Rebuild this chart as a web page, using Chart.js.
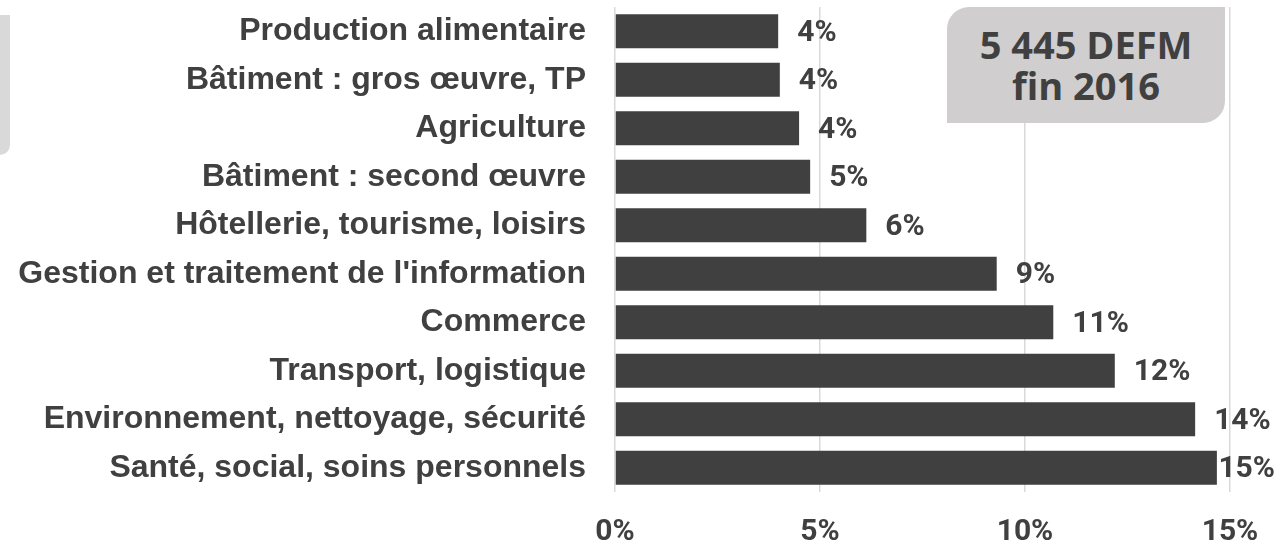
<!DOCTYPE html>
<html>
<head>
<meta charset="utf-8">
<script src="https://cdn.jsdelivr.net/npm/chart.js@4/dist/chart.umd.min.js"></script>
<style>
  html, body { margin: 0; padding: 0; background: #fff; }
  #wrap { position: relative; width: 1279px; height: 546px; overflow: hidden; }
  #leftTab {
    position: absolute; left: 0; top: 15px; width: 10px; height: 140px;
    background: #d9d9d9; border-radius: 0 0 12px 0;
  }
  #defm {
    position: absolute; left: 947px; top: 7px; width: 278px; height: 116px;
    background: #d0cece; border-radius: 22px 0 22px 0;
    color: #404040; font-family: "Open Sans", sans-serif; font-weight: 700;
    font-size: 38px; line-height: 41px; text-align: center;
    display: flex; flex-direction: column; justify-content: center;
  }
</style>
</head>
<body>
<div id="wrap">
  <canvas id="defmChart" width="1279" height="546"></canvas>
  <div id="leftTab"></div>
  <div id="defm"><div>5 445 DEFM</div><div>fin 2016</div></div>
</div>
<script>
/* ===========================
   DATA
=========================== */

const domaines = [
    "Production alimentaire",
    "Bâtiment : gros œuvre, TP",
    "Agriculture",
    "Bâtiment : second œuvre",
    "Hôtellerie, tourisme, loisirs",
    "Gestion et traitement de l'information",
    "Commerce",
    "Transport, logistique",
    "Environnement, nettoyage, sécurité",
    "Santé, social, soins personnels"
];

// part des DEFM (%)
const parts = [3.98, 4.02, 4.49, 4.76, 6.13, 9.31, 10.69, 12.19, 14.15, 14.68];

const xTicks = [0, 5, 10, 15];

/* ===========================
   CHART
=========================== */

const dark = '#404040';
const numFont = "Roboto, 'Liberation Sans', Arial, sans-serif";

// value labels at the end of each bar
const valueLabels = {
    id: 'valueLabels',
    afterDatasetsDraw(chart) {
        const c = chart.ctx;
        const meta = chart.getDatasetMeta(0);
        c.save();
        c.font = 'bold 30px ' + numFont;
        c.fillStyle = dark;
        c.textBaseline = 'middle';
        c.textAlign = 'left';
        meta.data.forEach((bar, i) => {
            const txt = Math.round(parts[i]) + '%';
            const w = c.measureText(txt).width;
            let x = bar.x + 19;
            if (x + w > chart.width - 4) x = chart.width - 4 - w;
            c.fillText(txt, x, bar.y + 2);
        });
        c.restore();
    }
};

const ctx = document.getElementById('defmChart');

new Chart(ctx, {
    type: 'bar',
    data: {
        labels: domaines,
        datasets: [{
            data: parts,
            backgroundColor: dark,
            borderWidth: 0,
            categoryPercentage: 1,
            barPercentage: 0.7
        }]
    },
    options: {
        indexAxis: 'y',
        responsive: false,
        animation: false,
        layout: { padding: { top: 7, right: 49, bottom: 0, left: 0 } },
        scales: {
            x: {
                min: 0,
                max: 15,
                afterBuildTicks: (scale) => {
                    scale.ticks = xTicks.map(v => ({ value: v }));
                },
                afterFit: (scale) => {
                    scale.height = 54;
                    scale.paddingLeft = 0;
                    scale.paddingRight = 0;
                },
                grid: { color: '#d9d9d9', lineWidth: 1.5, drawTicks: false },
                border: { display: false },
                ticks: {
                    color: dark,
                    font: { family: numFont, size: 30, weight: 'bold' },
                    padding: 22,
                    maxRotation: 0,
                    callback: (v) => v + '%'
                }
            },
            y: {
                afterFit: (scale) => {
                    scale.width = 615;
                    scale.paddingTop = 0;
                    scale.paddingBottom = 0;
                },
                grid: { display: false, drawTicks: false },
                border: { display: false },
                ticks: {
                    color: dark,
                    font: { family: "'Liberation Sans', Arial, sans-serif", size: 32, weight: 'bold' },
                    padding: 29,
                    autoSkip: false
                }
            }
        },
        plugins: {
            legend: { display: false },
            tooltip: { enabled: false }
        }
    },
    plugins: [valueLabels]
});
</script>
</body>
</html>
